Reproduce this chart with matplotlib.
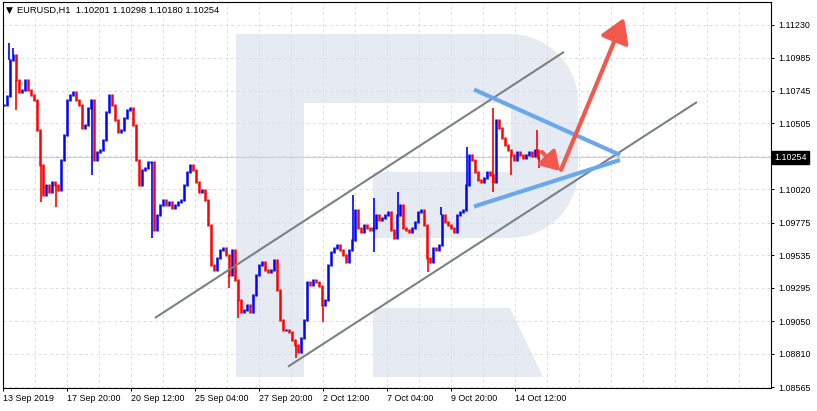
import numpy as np
import matplotlib.pyplot as plt
import matplotlib.transforms as mtransforms
from matplotlib.patches import Polygon, FancyArrowPatch

plt.rcParams['font.family'] = ['Liberation Sans', 'DejaVu Sans']

########  data

title_text = 'EURUSD,H1  1.10201 1.10298 1.10180 1.10254'
last_price = 1.10254

# closes, one value every 3 hourly bars, 13 Sep -> 15 Oct
bar_step = 3
close = [
    1.10639, 1.10705, 1.10970, 1.11007, 1.10823, 1.10735, 1.10750, 1.10823, 1.10750, 1.10713,
    1.10676, 1.10456, 1.10198, 1.09978, 1.10051, 1.09999, 1.10073, 1.10051, 1.10015, 1.10235,
    1.10419, 1.10676, 1.10713, 1.10735, 1.10676, 1.10639, 1.10470, 1.10492, 1.10617, 1.10676,
    1.10235, 1.10294, 1.10309, 1.10382, 1.10588, 1.10713, 1.10639, 1.10529, 1.10441, 1.10456,
    1.10544, 1.10603, 1.10617, 1.10492, 1.10235, 1.10051, 1.10162, 1.10176, 1.10220, 1.10220,
    1.09721, 1.09831, 1.09904, 1.09941, 1.09904, 1.09926, 1.09882, 1.09904, 1.09926, 1.09941,
    1.10051, 1.10147, 1.10198, 1.10162, 1.10073, 1.09999, 1.10015, 1.09941, 1.09757, 1.09463,
    1.09427, 1.09515, 1.09574, 1.09588, 1.09537, 1.09390, 1.09574, 1.09353, 1.09206, 1.09118,
    1.09133, 1.09169, 1.09118, 1.09243, 1.09390, 1.09463, 1.09485, 1.09427, 1.09412, 1.09427,
    1.09500, 1.09280, 1.09059, 1.08986, 1.08986, 1.08971, 1.08912, 1.08875, 1.08824, 1.08927,
    1.09059, 1.09338, 1.09316, 1.09353, 1.09338, 1.09309, 1.09169, 1.09206, 1.09463, 1.09559,
    1.09588, 1.09610, 1.09574, 1.09537, 1.09485, 1.09574, 1.09647, 1.09868, 1.09735, 1.09706,
    1.09757, 1.09735, 1.09721, 1.09735, 1.09831, 1.09794, 1.09809, 1.09831, 1.09853, 1.09721,
    1.09662, 1.09831, 1.09904, 1.09735, 1.09721, 1.09706, 1.09735, 1.09779, 1.09853, 1.09868,
    1.09757, 1.09515, 1.09485, 1.09588, 1.09574, 1.09610, 1.09831, 1.09779, 1.09757, 1.09735,
    1.09706, 1.09831, 1.09853, 1.09868, 1.10051, 1.10272, 1.10235, 1.10147, 1.10088, 1.10073,
    1.10103, 1.10147, 1.10125, 1.10073, 1.10529, 1.10470, 1.10397, 1.10345, 1.10309, 1.10272,
    1.10235, 1.10294, 1.10272, 1.10250, 1.10272, 1.10294, 1.10264, 1.10309, 1.10254]

# visible wick extremes: (bar, price)
wick_bars = [6, 10, 13, 38, 53, 89, 149, 226, 235, 293, 320, 350, 371, 371, 395,
             425, 438, 464, 490, 490, 508, 534, 536]
wick_prices = [1.11095, 1.11058, 1.10603, 1.09926, 1.09890, 1.10125, 1.09662, 1.09294,
               1.09074, 1.08780, 1.09044, 1.09978, 1.09956, 1.09559, 1.10000, 1.09412,
               1.09890, 1.10331, 1.10617, 1.10000, 1.10125, 1.10456, 1.10176]

date_labels = ['13 Sep 2019', '17 Sep 20:00', '20 Sep 12:00', '25 Sep 04:00', '27 Sep 20:00',
               '2 Oct 12:00', '7 Oct 04:00', '9 Oct 20:00', '14 Oct 12:00']
price_ticks = [1.11230, 1.10985, 1.10745, 1.10505, 1.10265, 1.10020, 1.09775,
               1.09535, 1.09295, 1.09050, 1.08810, 1.08565]
price_labels = ['1.11230', '1.10985', '1.10745', '1.10505', '', '1.10020', '1.09775',
                '1.09535', '1.09295', '1.09050', '1.08810', '1.08565']

# drawn objects: (bar, price) end points
channel_upper = ([152, 561], [1.09074, 1.11029])
channel_lower = ([285, 694], [1.08716, 1.10661])
wedge_upper = ([471, 617], [1.10753, 1.10272])
wedge_lower = ([471, 617], [1.09893, 1.10235])
arrow_small = ((539, 1.10294), (557, 1.10154))
arrow_big = ((558, 1.10162), (621, 1.11279))

########

W, H = 817, 411
fig = plt.figure(figsize=(W / 100, H / 100), dpi=100)
ax = fig.add_axes([3 / W, 23 / H, 768 / W, 386 / H])
ax.set_xlim(0, 768)
ax.set_ylim(1.08559, 1.11396)

# pixel transform (image coords, y down) for the watermark logo
pix = mtransforms.Affine2D().scale(1, -1).translate(0, H)


def arc(cx, cy, r, a0, a1, n=24):
    a = np.radians(np.linspace(a0, a1, n))
    return list(zip(cx + r * np.cos(a), cy + r * np.sin(a)))


logo_color = '#e6ebf3'
bowl = [(236, 34), (510, 34)] + arc(510, 102, 68, -90, 0) + [(578, 170)] + \
    arc(510, 170, 68, 0, 90) + [(373, 238), (373, 172), (511, 172), (511, 103),
                                (304, 103), (304, 377), (236, 377)]
leg = [(373, 308), (510, 308), (543, 377), (373, 377)]
for shape in (bowl, leg):
    ax.add_patch(Polygon(shape, closed=True, transform=pix, facecolor=logo_color,
                         edgecolor='none', zorder=0))

# grid
for gx in np.arange(0.3, 768, 32):
    ax.axvline(gx, color='#dddddd', lw=0.7, ls=(0, (3, 3)), zorder=1)
for gy in price_ticks:
    ax.axhline(gy, color='#dddddd', lw=0.7, ls=(0, (3, 3)), zorder=1)
ax.axhline(last_price, color='#d0d0d0', lw=0.8, zorder=1)

# bars
close = np.array(close)
opens = np.r_[close[0], close[:-1]]
xb = 1 + bar_step * np.arange(len(close))
lo = np.minimum(opens, close) - 0.0001
hi = np.maximum(opens, close) + 0.0001
up = close >= opens
cols = np.where(up, '#0000ff', '#ff0000')
ax.vlines(xb, lo, hi, colors=cols, lw=1.8, zorder=3)

# wicks to the visible extremes
for b, p in zip(wick_bars, wick_prices):
    k = int(np.argmin(np.abs(xb - b)))
    ax.vlines(b, min(p, close[k]), max(p, close[k]), colors=cols[k], lw=1.2, zorder=3)

# analysis objects
for xs, ys in (channel_upper, channel_lower):
    ax.plot(xs, ys, color='#7b8185', lw=1.5, solid_capstyle='butt', zorder=4)
for xs, ys in (wedge_upper, wedge_lower):
    ax.plot(xs, ys, color='#6aa8ee', lw=3, solid_capstyle='butt', zorder=4)
for (p0, p1), ms in ((arrow_small, 24), (arrow_big, 32)):
    ax.add_patch(FancyArrowPatch(p0, p1, arrowstyle='-|>,head_length=0.45,head_width=0.28',
                                 mutation_scale=ms, color='#f2584b', lw=3,
                                 shrinkA=0, shrinkB=0, zorder=5))

# axes
for s in ax.spines.values():
    s.set_linewidth(0.8)
    s.set_color('black')
ax.yaxis.tick_right()
ax.set_yticks(price_ticks)
ax.set_yticklabels(price_labels)
ax.set_xticks(np.arange(len(date_labels)) * 64 + 0.3)
ax.set_xticklabels(date_labels)
for lbl in ax.get_xticklabels():
    lbl.set_ha('left')
ax.tick_params(axis='y', length=2.5, width=0.7, pad=2.5, labelsize=6.4)
ax.tick_params(axis='x', length=2.5, width=0.7, pad=2, labelsize=6.4)

ax.annotate(f'{last_price:.5f}', xy=(1, last_price), xycoords=('axes fraction', 'data'),
            xytext=(2.3, 0), textcoords='offset points', ha='left', va='center',
            color='white', fontsize=6.4,
            bbox=dict(boxstyle='square,pad=0.22', fc='black', ec='black'))

fig.text(6 / W, 1 - 10.5 / H, '\u25bc', fontsize=6.5, va='center', ha='left',
         family=['DejaVu Sans'])
fig.text(17 / W, 1 - 10.5 / H, title_text, fontsize=6.7, va='center', ha='left')

fig.savefig('out.png', dpi=100)
